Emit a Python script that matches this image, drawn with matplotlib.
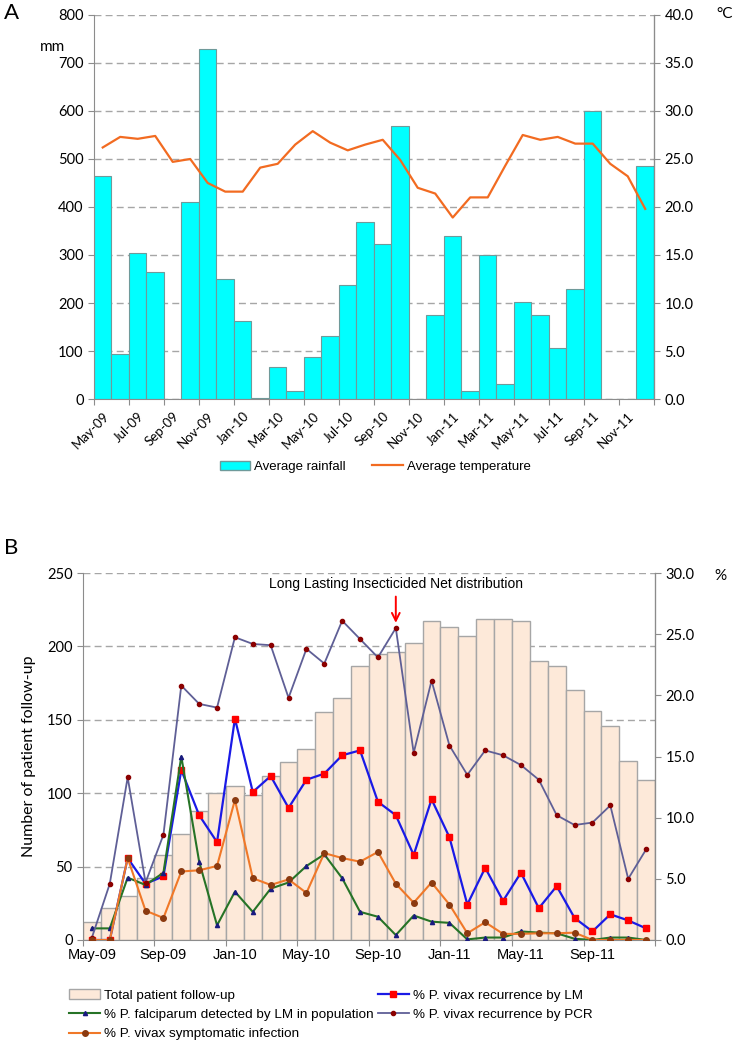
import numpy as np
import matplotlib
matplotlib.use("Agg")
import matplotlib.pyplot as plt
from matplotlib.lines import Line2D
from matplotlib.patches import Patch

months = ["May-09", "Jun-09", "Jul-09", "Aug-09", "Sep-09", "Oct-09", "Nov-09", "Dec-09",
          "Jan-10", "Feb-10", "Mar-10", "Apr-10", "May-10", "Jun-10", "Jul-10", "Aug-10",
          "Sep-10", "Oct-10", "Nov-10", "Dec-10", "Jan-11", "Feb-11", "Mar-11", "Apr-11",
          "May-11", "Jun-11", "Jul-11", "Aug-11", "Sep-11", "Oct-11", "Nov-11", "Dec-11"]

# panel A
rainfall = [465, 94, 305, 264, 0, 411, 730, 250, 162, 2, 66, 17, 88, 132, 237, 369,
            323, 568, 0, 175, 339, 17, 299, 31, 202, 174, 106, 229, 599, 0, 0, 486]
temperature = [26.2, 27.3, 27.1, 27.4, 24.7, 25.0, 22.5, 21.6, 21.6, 24.1, 24.5, 26.5,
               27.9, 26.7, 25.9, 26.5, 27.0, 24.9, 22.0, 21.4, 18.9, 21.0, 21.0, 24.3,
               27.5, 27.0, 27.3, 26.6, 26.6, 24.5, 23.2, 19.8]

# panel B
patients = [12, 22, 30, 42, 58, 72, 88, 100, 105, 99, 112, 121, 130, 155, 165, 187,
            195, 196, 202, 217, 213, 207, 219, 219, 217, 190, 187, 170, 156, 146, 122, 109]
vivax_lm = [0, 0, 6.7, 4.6, 5.2, 13.9, 10.2, 8.0, 18.1, 12.1, 13.4, 10.8, 13.1, 13.6, 15.1, 15.5,
            11.3, 10.2, 6.95, 11.5, 8.4, 2.9, 5.9, 3.2, 5.5, 2.6, 4.4, 1.8, 0.7, 2.1, 1.6, 0.95]
falciparum = [0.95, 0.95, 5.1, 4.5, 5.5, 15.0, 6.4, 1.2, 3.95, 2.3, 4.2, 4.7, 6.05, 7.0, 5.05, 2.3,
              1.9, 0.4, 2.0, 1.5, 1.4, 0.05, 0.2, 0.2, 0.7, 0.6, 0.55, 0.1, 0.0, 0.2, 0.2, 0.0]
vivax_pcr = [0.2, 4.6, 13.3, 4.7, 8.6, 20.8, 19.3, 19.0, 24.75, 24.2, 24.1, 19.8, 23.8, 22.6, 26.1, 24.6,
             23.1, 25.5, 15.3, 21.2, 15.9, 13.5, 15.5, 15.1, 14.3, 13.1, 10.2, 9.4, 9.6, 11.0, 5.0, 7.4]
symptomatic = [0, 0, 6.7, 2.4, 1.8, 5.6, 5.7, 6.05, 11.45, 5.05, 4.5, 4.95, 3.85, 7.1, 6.7, 6.4,
               7.2, 4.6, 3.05, 4.7, 2.9, 0.55, 1.45, 0.5, 0.5, 0.55, 0.55, 0.6, 0, 0, 0, 0]

NARROW = ["Liberation Sans Narrow", "Liberation Sans", "DejaVu Sans"]
NUM = ["Lato", "DejaVu Sans"]
AXCOL = "#8C8C8C"
GRID = "#A6A6A6"

fig = plt.figure(figsize=(7.33, 10.47), dpi=100)
x = np.arange(len(months))
n = len(months)


def style_axes(ax, ax2):
    ax.spines["top"].set_visible(False)
    ax2.spines["top"].set_visible(False)
    for s in ["left", "bottom"]:
        ax.spines[s].set_color(AXCOL)
    ax2.spines["right"].set_color(AXCOL)
    ax2.spines["left"].set_visible(False)
    ax2.spines["bottom"].set_visible(False)
    ax.tick_params(axis="y", length=4, color=AXCOL, labelsize=10.5)
    ax2.tick_params(axis="y", length=4, color=AXCOL, labelsize=10.5)
    for lab in ax.get_yticklabels() + ax2.get_yticklabels():
        lab.set_family(NUM)
    ax.set_axisbelow(True)
    ax.yaxis.grid(True, color=GRID, lw=1, ls=(0, (5, 3)))


# ---------------- panel A ----------------
axA = fig.add_axes([0.1282, 0.6189, 0.764, 0.3668])
axA.bar(x, rainfall, width=1.0, color="#00FFFF", edgecolor="#6F9A9A", linewidth=0.8, zorder=2)
axA.set_xlim(-0.5, n - 0.5)
axA.set_ylim(0, 800)
axA.set_yticks(range(0, 801, 100))
axA2 = axA.twinx()
axA2.plot(x, temperature, color="#F26B21", lw=1.6)
axA2.set_ylim(0, 40)
axA2.set_yticks(np.arange(0, 41, 5))
axA2.set_yticklabels(["%.1f" % v for v in np.arange(0, 41, 5)])
style_axes(axA, axA2)

axA.set_xticks(np.arange(-0.5, n, 2))
axA.set_xticklabels([])
axA.set_xticks(x[::2], minor=True)
axA.set_xticklabels(months[::2], minor=True, rotation=45, ha="right", va="top",
                    rotation_mode="anchor", fontsize=9.5, family=NUM)
axA.tick_params(axis="x", which="major", length=4, color=AXCOL)
axA.tick_params(axis="x", which="minor", length=0, pad=8)

fig.text(0.055, 0.951, "mm", fontsize=11, family=NUM)
fig.text(0.977, 0.983, "°C", fontsize=11, family=NUM)
fig.text(0.005, 0.982, "A", fontsize=16, family=NUM)

legA = [Patch(facecolor="#00FFFF", edgecolor="#6F9A9A", label="Average rainfall"),
        Line2D([], [], color="#F26B21", lw=1.6, label="Average temperature")]
fig.legend(handles=legA, loc="center", bbox_to_anchor=(0.512, 0.554), ncol=2, frameon=False,
           prop={"family": NARROW, "size": 9.5}, handlelength=2.3, handletextpad=0.3,
           columnspacing=2.0)

# ---------------- panel B ----------------
axB = fig.add_axes([0.1132, 0.1022, 0.7804, 0.3505])
axB.bar(x, patients, width=1.0, color="#FDE9D9", edgecolor="#A6A6A6", linewidth=1.0, zorder=2)
axB.set_xlim(-0.5, n - 0.5)
axB.set_ylim(0, 250)
axB.set_yticks(range(0, 251, 50))
axB.set_ylabel("Number of patient follow-up", fontsize=11.5, family=NUM, labelpad=8)
axB2 = axB.twinx()
axB2.set_ylim(0, 30)
axB2.set_yticks(np.arange(0, 31, 5))
axB2.set_yticklabels(["%.1f" % v for v in np.arange(0, 31, 5)])

l_lm, = axB2.plot(x, vivax_lm, color="#1A1AE6", lw=1.6, marker="s", ms=4.5,
                  mfc="#FF0000", mec="#FF0000")
l_fal, = axB2.plot(x, falciparum, color="#267326", lw=1.5, marker="^", ms=3,
                   mfc="#1A1A80", mec="#1A1A80")
l_pcr, = axB2.plot(x, vivax_pcr, color="#5F5F96", lw=1.3, marker="o", ms=3,
                   mfc="#8B0000", mec="#8B0000")
l_sym, = axB2.plot(x, symptomatic, color="#F07828", lw=1.5, marker="o", ms=4,
                   mfc="#8B3A10", mec="#8B3A10")
style_axes(axB, axB2)

axB.set_xticks(np.arange(-0.5, n, 4))
axB.set_xticklabels([])
axB.set_xticks(x[::4], minor=True)
axB.set_xticklabels(months[::4], minor=True, fontsize=10.5, family=NARROW)
axB.tick_params(axis="x", which="major", length=4, color=AXCOL)
axB.tick_params(axis="x", which="minor", length=0, pad=6)

axB2.annotate("", xy=(17, 25.7), xytext=(17, 28.3),
              arrowprops=dict(arrowstyle="->", color="#FF0000", lw=1.4, mutation_scale=14))
axB2.text(17, 29.1, "Long Lasting Insecticided Net distribution", ha="center", va="center",
          fontsize=10, family=NARROW)

fig.text(0.975, 0.446, "%", fontsize=11, family=NUM)
fig.text(0.005, 0.471, "B", fontsize=16, family=NUM)

h_tot = Patch(facecolor="#FDE9D9", edgecolor="#A6A6A6", label="Total patient follow-up")
handles = [h_tot, l_fal, l_sym, l_lm, l_pcr]
labels = ["Total patient follow-up",
          "% P. falciparum detected by LM in population",
          "% P. vivax symptomatic infection",
          "% P. vivax recurrence by LM",
          "% P. vivax recurrence by PCR"]
fig.legend(handles, labels, loc="upper left", bbox_to_anchor=(0.078, 0.0665), ncol=2,
           frameon=False, prop={"family": NARROW, "size": 9.7}, handlelength=2.3,
           handletextpad=0.3, columnspacing=0.3, labelspacing=0.5, numpoints=1)

fig.savefig("out.png", dpi=100)
